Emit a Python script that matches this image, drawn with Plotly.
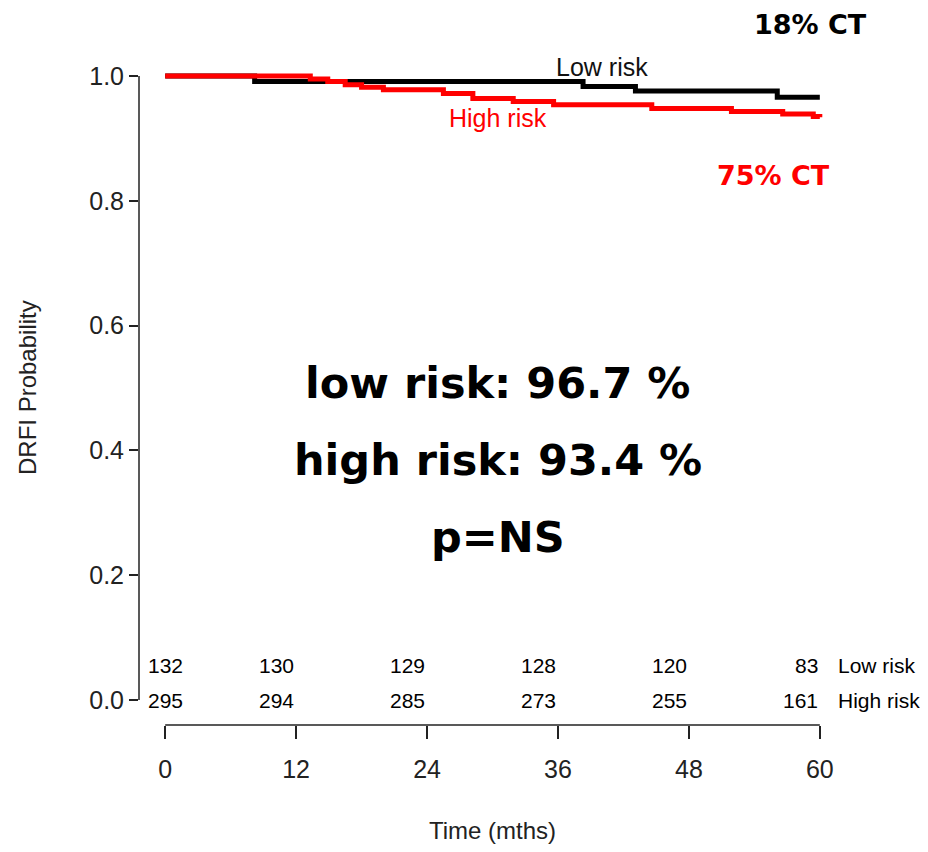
import plotly.graph_objects as go

# Kaplan-Meier step data (months, survival probability)
low_t = [0, 8.2, 38.3, 43.1, 56.1, 60]
low_s = [1.0, 0.991, 0.983, 0.976, 0.966, 0.966]

high_t = [0, 13.3, 14.9, 16.5, 18.0, 20.0, 25.5, 28.2, 31.9, 35.6, 44.6, 51.9, 56.6, 59.4, 60]
high_s = [1.0, 0.995, 0.991, 0.986, 0.982, 0.978, 0.972, 0.964, 0.959, 0.954, 0.948, 0.943, 0.939, 0.935, 0.934]

# Numbers at risk
risk_times = [0, 12, 24, 36, 48, 60]
risk_low = [132, 130, 129, 128, 120, 83]
risk_high = [295, 294, 285, 273, 255, 161]

x_ticks = [0, 12, 24, 36, 48, 60]
y_ticks = [0.0, 0.2, 0.4, 0.6, 0.8, 1.0]
y_ticklabels = ["0.0", "0.2", "0.4", "0.6", "0.8", "1.0"]

summary_lines = ["low risk: 96.7 %", "high risk: 93.4 %", "p=NS"]

BLACK = "#000000"
RED = "#ff0000"
FONT = "Liberation Sans, Arial, sans-serif"
BOLD = "DejaVu Sans, Verdana, sans-serif"

fig = go.Figure()
fig.add_trace(go.Scatter(x=low_t, y=low_s, mode="lines", line=dict(color=BLACK, width=5, shape="hv"),
                         showlegend=False, hoverinfo="skip"))
fig.add_trace(go.Scatter(x=high_t, y=high_s, mode="lines", line=dict(color=RED, width=5, shape="hv"),
                         showlegend=False, hoverinfo="skip"))

ann = []
# axis titles
ann.append(dict(x=0.5, y=0, xref="paper", yref="paper", text="Time (mths)", showarrow=False,
                xanchor="center", yanchor="middle", yshift=-105,
                font=dict(family=FONT, size=24, color="#222222")))
ann.append(dict(x=0, y=0.5, xref="paper", yref="paper", text="DRFI Probability", showarrow=False,
                xanchor="center", yanchor="middle", xshift=-112, textangle=-90,
                font=dict(family=FONT, size=24, color="#222222")))
# curve labels
ann.append(dict(x=40.0, y=1.0, text="Low risk", showarrow=False, xanchor="center", yanchor="bottom",
                font=dict(family=FONT, size=25, color="#111111"), yshift=-7))
ann.append(dict(x=30.5, y=0.97, text="High risk", showarrow=False, xanchor="center", yanchor="top",
                font=dict(family=FONT, size=25, color=RED), yshift=-7))
# CT labels (paper coordinates: above the plotting range)
ann.append(dict(x=0.95, y=1.0, xref="paper", yref="paper", text="<b>18% CT</b>", showarrow=False,
                xanchor="center", yanchor="middle", yshift=27,
                font=dict(family=BOLD, size=27, color=BLACK)))
ann.append(dict(x=55.8, y=0.841, text="<b>75% CT</b>", showarrow=False, xanchor="center", yanchor="middle",
                font=dict(family=BOLD, size=27, color=RED)))
# summary text
for txt, yy in zip(summary_lines, [0.508, 0.385, 0.261]):
    ann.append(dict(x=30.5, y=yy, text="<b>" + txt + "</b>", showarrow=False, xanchor="center", yanchor="middle",
                    font=dict(family=BOLD, size=43, color=BLACK)))
# risk table
for i, (t, nl, nh) in enumerate(zip(risk_times, risk_low, risk_high)):
    xa = "center" if i == 0 else "right"
    ann.append(dict(x=t, y=0.056, text=str(nl), showarrow=False, xanchor=xa, yanchor="middle",
                    font=dict(family=FONT, size=21, color=BLACK)))
    ann.append(dict(x=t, y=0.0, text=str(nh), showarrow=False, xanchor=xa, yanchor="middle",
                    font=dict(family=FONT, size=21, color=BLACK)))
ann.append(dict(x=61.5, y=0.056, text="Low risk", showarrow=False, xanchor="left", yanchor="middle",
                font=dict(family=FONT, size=21, color=BLACK)))
ann.append(dict(x=61.5, y=0.0, text="High risk", showarrow=False, xanchor="left", yanchor="middle",
                font=dict(family=FONT, size=21, color=BLACK)))

shapes = [
    dict(type="line", xref="paper", yref="y", x0=0, x1=0, y0=0, y1=1, line=dict(color="#222222", width=1.5)),
    dict(type="line", xref="x", yref="paper", x0=0, x1=60, y0=0, y1=0, line=dict(color="#222222", width=1.5)),
]

fig.update_layout(
    width=912, height=836,
    margin=dict(l=131, r=74, t=43, b=119, autoexpand=False),
    paper_bgcolor="white", plot_bgcolor="white",
    annotations=ann, shapes=shapes,
    xaxis=dict(range=[-2.4, 62.4], tickvals=x_ticks, ticktext=[str(v) for v in x_ticks],
               showgrid=False, zeroline=False, showline=False, automargin=False,
               ticks="outside", ticklen=13, tickwidth=1.5, tickcolor="#222222",
               ticklabelstandoff=9,
               tickfont=dict(family=FONT, size=25, color="#222222")),
    yaxis=dict(range=[-0.04, 1.04], tickvals=y_ticks, ticktext=y_ticklabels,
               showgrid=False, zeroline=False, showline=False, automargin=False,
               ticks="outside", ticklen=9, tickwidth=1.5, tickcolor="#222222",
               tickfont=dict(family=FONT, size=25, color="#222222")),
)

fig.write_html("out.html")
